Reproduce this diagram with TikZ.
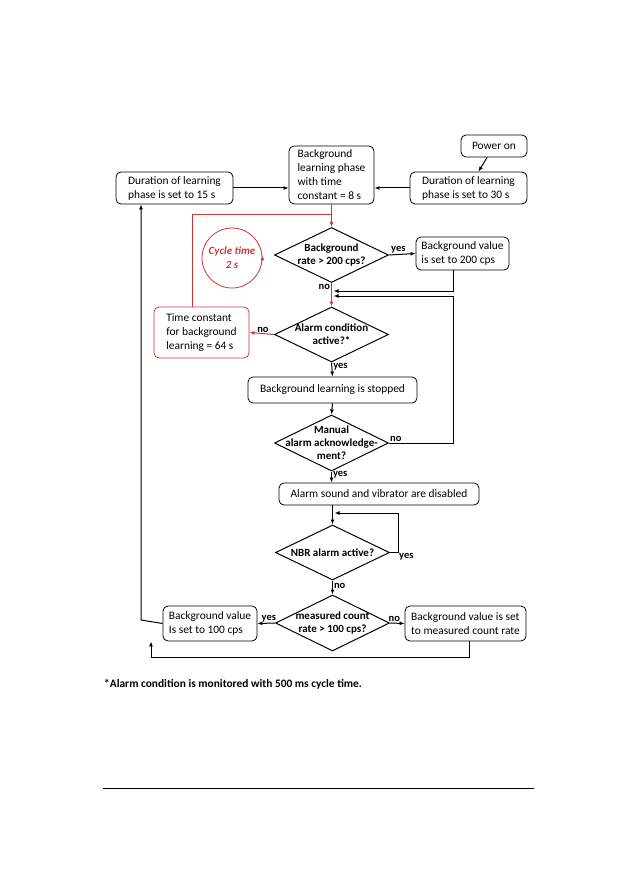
\documentclass[tikz,border=0pt]{standalone}
\usepackage{fontspec}
\setmainfont{Carlito}
\usepackage{tikz}
\usetikzlibrary{shapes.geometric, arrows.meta}
\definecolor{alarmred}{RGB}{204,55,55}

\begin{document}
\begin{tikzpicture}[
    x=1pt, y=-1pt,
    box/.style={draw, rounded corners=5pt, line width=0.8pt, align=left, inner sep=2pt, font=\fontsize{11.4}{14}\selectfont},
    redbox/.style={box, draw=alarmred},
    dia/.style={draw, diamond, line width=1pt, minimum width=114pt, minimum height=55pt, inner sep=0pt},
    qtext/.style={font=\fontsize{11}{13}\selectfont\bfseries, align=center},
    flow/.style={-{Latex[length=5pt, width=4pt]}, line width=1pt},
    redflow/.style={flow, draw=alarmred},
    answer/.style={font=\fontsize{10.5}{11}\selectfont\bfseries, inner sep=1pt}
]
\useasboundingbox (0,0) rectangle (630,893);

\node[box, minimum width=66pt, minimum height=22pt] (power) at (494,146) {Power on};
\node[box, minimum width=117pt, minimum height=32pt] (dur30) at (468.5,188) {Duration of learning\\phase is set to 30 s};
\node[box, minimum width=85pt, minimum height=58pt] (bglearn) at (331.5,175) {Background\\learning phase\\with time\\constant = 8 s};
\node[box, minimum width=117pt, minimum height=32pt] (dur15) at (174.5,188) {Duration of learning\\phase is set to 15 s};

\node[dia, label={[qtext]center:{Background\\rate > 200 cps?}}] (d1) at (331.5,255) {};
\node[box, minimum width=93pt, minimum height=33pt] (bg200) at (462.5,253.5) {Background value\\is set to 200 cps};
\node[circle, draw=alarmred, line width=0.8pt, minimum size=60pt, inner sep=0pt, text=alarmred, align=center,
      font=\fontsize{11}{14}\selectfont\bfseries\itshape] (cyc) at (232,258) {Cycle time\\2 s};

\node[dia, label={[qtext]center:{Alarm condition\\active?*}}] (d2) at (331.5,334.5) {};
\node[redbox, minimum width=95pt, minimum height=51pt] (tc64) at (201.5,332.5) {Time constant\\for background\\learning = 64 s};

\node[box, minimum width=169pt, minimum height=26pt] (stop) at (332.5,390) {Background learning is stopped};
\node[dia, minimum height=56pt, label={[qtext]center:{Manual\\alarm acknowledge-\\ment?}}] (d3) at (331.5,443) {};
\node[box, minimum width=200pt, minimum height=22pt] (disabled) at (379,494) {Alarm sound and vibrator are disabled};

\node[dia, label={[qtext]center:{NBR alarm active?}}] (d4) at (332.5,552.5) {};
\node[dia, minimum height=56pt, label={[qtext]center:{measured count\\rate > 100 cps?}}] (d5) at (332.5,623) {};
\node[box, minimum width=94pt, minimum height=35pt] (bg100) at (210,623.5) {Background value\\Is set to 100 cps};
\node[box, minimum width=121pt, minimum height=35pt] (bgmeas) at (465.5,623.5) {Background value is set\\to measured count rate};

\node[anchor=west, inner sep=0pt, font=\fontsize{11.4}{13}\selectfont\bfseries] (note) at (104,684) {*Alarm condition is monitored with 500 ms cycle time.};

\coordinate (rjoin) at (331.5,215);
\coordinate (m1) at (333.5,291);
\coordinate (m2) at (333.5,296);
\coordinate (rbus) at (453,296);
\coordinate (m3) at (334.5,513);
\coordinate (bl) at (151,657);
\coordinate (lbus) at (141,620);
\coordinate (rulea) at (103,788);
\coordinate (ruleb) at (534,788);

\draw[flow] (power) -- (dur30);
\draw[flow] (dur30.west) -- (dur30.west -| bglearn.east);
\draw[flow] (dur15.east) -- (dur15.east -| bglearn.west);
\draw[redflow] (bglearn) -- (d1);
\draw[alarmred, line width=1pt] ([xshift=-9.5pt]tc64.north) |- (rjoin);
\draw[alarmred, -{Latex[length=4pt, width=3.5pt]}] ([yshift=-3pt]cyc.east) -- ([yshift=2pt]cyc.east);

\draw[flow] (d1.east) -- node[answer, above, pos=0.35] (y1) {yes} (bg200.west);
\draw[flow] ([xshift=-9.5pt]bg200.south) |- (m1);
\draw[redflow] (d1.south) -- node[answer, left, pos=0.15] (n1) {no} (d2.north);
\draw[redflow] (d2.west) -- node[answer, above, pos=0.45] (n2) {no} (tc64.east);
\draw[flow] (d2.south) -- node[answer, right, pos=0.3] (y2) {yes} (stop.north);
\draw[flow] (stop.south) -- (d3.north);
\draw[flow] (d3.east) -| (rbus) -- (m2);
\node[answer, above right] (n3) at (d3.east) {no};
\draw[flow] (d3.south) -- node[answer, right, pos=0.3] (y3) {yes} (d3.south |- disabled.north);
\draw[flow] (disabled.south -| d4.north) -- (d4.north);
\draw[flow] (d4.east) -- ++(8,0) |- (m3);
\node[answer, right] (y4) at ([xshift=8pt, yshift=-4pt]d4.east) {yes};
\draw[flow] (d4.south) -- node[answer, right, pos=0.4] (n4) {no} (d5.north);
\draw[flow] (d5.west) -- node[answer, above, pos=0.35] (y5) {yes} (bg100.east);
\draw[flow] (d5.east) -- node[answer, above, pos=0.3] (n5) {no} (bgmeas.west);
\draw[flow] ([xshift=3.5pt]bgmeas.south) |- (bl) -- (bl |- bg100.south);
\draw[flow] (bg100.west) -- (lbus) -- (lbus |- dur15.south);

\draw[line width=1pt] (rulea) -- (ruleb);
\end{tikzpicture}
\end{document}
